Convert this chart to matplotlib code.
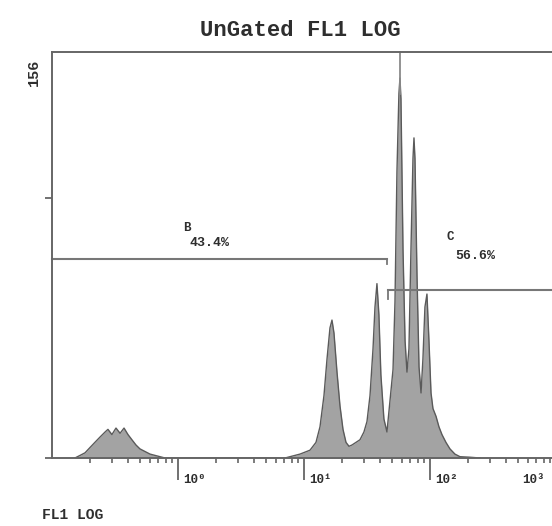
import numpy as np
import matplotlib
matplotlib.use("Agg")
import matplotlib.pyplot as plt
from matplotlib import transforms
from matplotlib.ticker import LogLocator, NullFormatter, FixedLocator

# ---- data ----
fl1 = [0.152, 0.167, 0.183, 0.200, 0.219, 0.240, 0.264, 0.278, 0.299, 0.322,
       0.347, 0.373, 0.401, 0.431, 0.464, 0.499, 0.547, 0.600, 0.657, 0.720,
       0.789, 7.07, 7.74, 9.30, 11.16, 12.45, 13.40, 14.41, 15.23, 16.08,
       16.68, 17.30, 18.28, 19.31, 20.40, 21.55, 22.77, 24.05, 25.86, 27.81,
       29.91, 31.62, 33.42, 35.31, 36.60, 37.94, 39.33, 40.77, 43.09, 45.55,
       48.15, 50.89, 52.75, 54.68, 56.68, 57.78, 58.84, 61.08, 63.42, 65.68,
       68.08, 70.63, 73.28, 74.64, 76.03, 78.89, 81.85, 84.92, 87.90, 91.20,
       94.62, 98.17, 101.9, 105.6, 111.7, 117.8, 124.5, 133.9, 144.1, 157.8,
       173.0, 207.5, 249.5]
counts = [0, 1, 2, 4, 6, 8, 10, 11, 9, 11.5,
          9.5, 11.5, 9, 7, 5, 3.5, 2.5, 1.5, 1, 0.5,
          0, 0, 0.5, 1.5, 3, 6, 12, 24, 38, 50,
          53, 48, 33, 20, 11, 6, 4.5, 5, 6, 7,
          10, 14, 24, 42, 58, 67, 55, 32, 15, 10,
          22, 34, 60, 110, 140, 146, 138, 80, 45, 33,
          42, 80, 115, 123, 115, 70, 35, 25, 38, 58,
          63, 45, 25, 19, 16, 12, 9, 6, 3.5, 1.5,
          0.5, 0.3, 0]

y_max = 156
y_ticks = [0, 100]
x_min, x_max = 0.1, 930
x_major = [1, 10, 100]
x_major_labels = ["10⁰", "10¹", "10²", "10³"]
x_label_decades = [1, 10, 100, 1000]

gate_names = ["B", "C"]
gate_pct = ["43.4%", "56.6%"]
gate_y = [76.5, 64.5]
gate_lo = [0.1, 46.4]
gate_hi = [45.5, 930]
gate_name_xy = [(1.096, 88.4), (136.4, 84.9)]
gate_pct_xy = [(1.245, 82.6), (158.0, 77.6)]
cursor_x = 57.78

title = "UnGated FL1 LOG"
xlabel = "FL1 LOG"

# ---- figure ----
W, H = 552, 526
fig = plt.figure(figsize=(W / 100, H / 100), dpi=100)
ax = fig.add_axes([52 / W, 68 / H, 500 / W, 406 / H])

mono = ["Liberation Mono", "DejaVu Sans Mono"]
axcol = "#666666"
txtcol = "#2e2e2e"

ax.fill_between(fl1, counts, 0, color="#a3a3a3", lw=0)
ax.plot(fl1, counts, color="#5a5a5a", lw=1.0)

ax.set_xscale("log")
ax.set_xlim(x_min, x_max)
ax.set_ylim(0, y_max)

ax.spines["right"].set_visible(False)
for s in ["left", "top", "bottom"]:
    ax.spines[s].set_color(axcol)
    ax.spines[s].set_linewidth(1.4)

ax.xaxis.set_major_locator(FixedLocator(x_major))
ax.xaxis.set_minor_locator(LogLocator(base=10, subs=np.arange(2, 10)))
ax.xaxis.set_major_formatter(NullFormatter())
ax.xaxis.set_minor_formatter(NullFormatter())
ax.tick_params(axis="x", which="major", length=16, width=1.3, color=axcol, direction="out")
ax.tick_params(axis="x", which="minor", length=3.5, width=1.2, color=axcol, direction="out")
ax.set_yticks(y_ticks)
ax.set_yticklabels([])
ax.tick_params(axis="y", which="major", length=5, width=1.3, color=axcol, direction="out")

# gates
gcol = "#777777"
for i in range(len(gate_names)):
    ax.plot([gate_lo[i], gate_hi[i]], [gate_y[i], gate_y[i]], color=gcol, lw=1.5, clip_on=False)
    ax.text(gate_name_xy[i][0], gate_name_xy[i][1], gate_names[i], family=mono,
            fontweight="bold", fontsize=9, color=txtcol, ha="left", va="center")
    ax.text(gate_pct_xy[i][0], gate_pct_xy[i][1], gate_pct[i], family=mono,
            fontweight="bold", fontsize=9.5, color=txtcol, ha="left", va="center")
ax.plot([gate_lo[1], gate_lo[1]], [gate_y[1], gate_y[1] - 3.5], color=gcol, lw=1.3)
ax.plot([gate_hi[0], gate_hi[0]], [gate_y[0], gate_y[0] - 2], color=gcol, lw=1.3)

# cursor line
ax.plot([cursor_x, cursor_x], [140, y_max], color="#8a8a8a", lw=1.3, clip_on=False)

# x tick labels placed to the right of each decade tick
for xv, lab in zip(x_label_decades, x_major_labels):
    dx = 5 if xv < 1000 else -34
    tr = transforms.offset_copy(ax.get_xaxis_transform(), fig=fig, x=dx, y=-22, units="dots")
    ax.text(xv, 0, lab, transform=tr, family=mono, fontweight="bold", fontsize=9,
            color=txtcol, ha="left", va="center", clip_on=False)

# y max label
fig.text(34 / W, 1 - 72 / H, str(y_max), rotation=90, family=mono, fontweight="bold",
         fontsize=11, color=txtcol, ha="center", va="center")

fig.text(300 / W, 1 - 30 / H, title, family=mono, fontweight="bold", fontsize=16,
         color=txtcol, ha="center", va="center")
fig.text(42 / W, 1 - 515 / H, xlabel, family=mono, fontweight="bold", fontsize=10.5,
         color=txtcol, ha="left", va="center")

fig.savefig("out.png", dpi=100)
